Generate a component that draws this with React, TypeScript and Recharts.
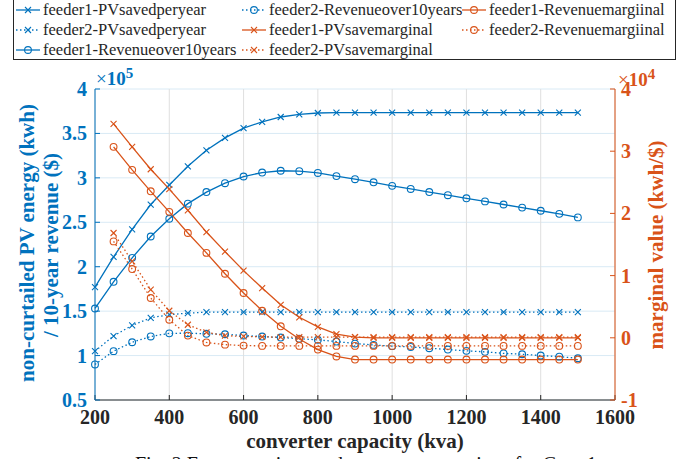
import { CartesianGrid, ComposedChart, Legend, Line, XAxis, YAxis } from "recharts"

// converter capacity (kva)
const capacity = [
  200, 250, 300, 350, 400, 450, 500, 550, 600, 650, 700, 750, 800, 850,
  900, 950, 1000, 1050, 1100, 1150, 1200, 1250, 1300, 1350, 1400, 1450, 1500,
]

// left axis values, x 10^5
const feeder1PvSavedPerYear = [
  1.77, 2.11, 2.42, 2.7, 2.92, 3.13, 3.31, 3.45, 3.56, 3.63, 3.685, 3.715, 3.73, 3.735,
  3.735, 3.735, 3.735, 3.735, 3.735, 3.735, 3.735, 3.735, 3.735, 3.735, 3.735, 3.735, 3.735,
]
const feeder2PvSavedPerYear = [
  1.05, 1.22, 1.34, 1.425, 1.46, 1.478, 1.488, 1.49, 1.49, 1.49, 1.49, 1.49, 1.49, 1.49,
  1.49, 1.49, 1.49, 1.49, 1.49, 1.49, 1.49, 1.49, 1.49, 1.49, 1.49, 1.49, 1.49,
]
const feeder1RevenueOver10Years = [
  1.53, 1.83, 2.1, 2.34, 2.54, 2.71, 2.84, 2.94, 3.015, 3.06, 3.08, 3.075, 3.055, 3.02,
  2.985, 2.95, 2.91, 2.875, 2.84, 2.805, 2.77, 2.735, 2.7, 2.665, 2.63, 2.595, 2.555,
]
const feeder2RevenueOver10Years = [
  0.9, 1.05, 1.15, 1.215, 1.25, 1.252, 1.245, 1.24, 1.226, 1.214, 1.203, 1.19, 1.177, 1.158,
  1.135, 1.12, 1.106, 1.097, 1.083, 1.068, 1.053, 1.042, 1.025, 1.015, 1.0, 0.988, 0.97,
]

// right axis values, x 10^4 (no marginal value at the first capacity)
const feeder1PvSaveMarginal = [
  null, 3.44, 3.07, 2.71, 2.39, 2.05, 1.7, 1.385, 1.08, 0.8, 0.53, 0.33, 0.175, 0.06,
  0.012, 0, 0, 0, 0, 0, 0, 0, 0, 0, 0, 0, 0,
]
const feeder2PvSaveMarginal = [
  null, 1.685, 1.23, 0.775, 0.435, 0.21, 0.087, 0.034, 0.022, 0.015, 0.01, 0.01, 0.01, 0.01,
  0.01, 0.01, 0.01, 0.01, 0.01, 0.01, 0.01, 0.01, 0.01, 0.01, 0.01, 0.01, 0.01,
]
const feeder1RevenueMargiinal = [
  null, 3.07, 2.7, 2.355, 2.025, 1.685, 1.365, 1.03, 0.72, 0.435, 0.185, -0.02, -0.19, -0.3,
  -0.35, -0.35, -0.35, -0.35, -0.35, -0.35, -0.35, -0.35, -0.35, -0.35, -0.35, -0.35, -0.35,
]
const feeder2RevenueMargiinal = [
  null, 1.55, 1.105, 0.64, 0.29, 0.035, -0.075, -0.11, -0.125, -0.13, -0.13, -0.13, -0.13, -0.13,
  -0.13, -0.13, -0.13, -0.13, -0.13, -0.13, -0.13, -0.13, -0.13, -0.13, -0.13, -0.13, -0.13,
]

const xTicks = [200, 400, 600, 800, 1000, 1200, 1400, 1600]
const leftTicks = [0.5, 1, 1.5, 2, 2.5, 3, 3.5, 4]
const rightTicks = [-1, 0, 1, 2, 3, 4]

const BLUE = "#0072BD"
const ORANGE = "#D95319"
const INK = "#262626"
const FONT = '"Liberation Serif", "Times New Roman", Times, "DejaVu Serif", serif'

// legend order (column by column)
const series = [
  { key: "f1PvYear", name: "feeder1-PVsavedperyear", values: feeder1PvSavedPerYear, color: BLUE, dotted: false, marker: "x", axis: "left" },
  { key: "f2PvYear", name: "feeder2-PVsavedperyear", values: feeder2PvSavedPerYear, color: BLUE, dotted: true, marker: "x", axis: "left" },
  { key: "f1Rev", name: "feeder1-Revenueover10years", values: feeder1RevenueOver10Years, color: BLUE, dotted: false, marker: "o", axis: "left" },
  { key: "f2Rev", name: "feeder2-Revenueover10years", values: feeder2RevenueOver10Years, color: BLUE, dotted: true, marker: "o", axis: "left" },
  { key: "f1PvMarg", name: "feeder1-PVsavemarginal", values: feeder1PvSaveMarginal, color: ORANGE, dotted: false, marker: "x", axis: "right" },
  { key: "f2PvMarg", name: "feeder2-PVsavemarginal", values: feeder2PvSaveMarginal, color: ORANGE, dotted: true, marker: "x", axis: "right" },
  { key: "f1RevMarg", name: "feeder1-Revenuemargiinal", values: feeder1RevenueMargiinal, color: ORANGE, dotted: false, marker: "o", axis: "right" },
  { key: "f2RevMarg", name: "feeder2-Revenuemargiinal", values: feeder2RevenueMargiinal, color: ORANGE, dotted: true, marker: "o", axis: "right" },
]

const rows = capacity.map((c, i) => {
  const row: Record<string, number | null> = { capacity: c }
  series.forEach((s) => (row[s.key] = s.values[i]))
  return row
})

function Marker({ cx, cy, shape, color }: { cx: number; cy: number; shape: string; color: string }) {
  if (shape === "x") {
    return (
      <path
        d={`M${cx - 3},${cy - 3}L${cx + 3},${cy + 3}M${cx - 3},${cy + 3}L${cx + 3},${cy - 3}`}
        stroke={color}
        strokeWidth={1.1}
        fill="none"
      />
    )
  }
  return <circle cx={cx} cy={cy} r={3.4} stroke={color} strokeWidth={1.1} fill="none" />
}

const renderDot = (s: (typeof series)[number]) => (p: any) => {
  const key = `${s.key}-${p.index}`
  if (p.cx == null || p.cy == null || p.value == null) return <g key={key} />
  return (
    <g key={key}>
      <Marker cx={p.cx} cy={p.cy} shape={s.marker} color={s.color} />
    </g>
  )
}

function LegendBox({ payload }: any) {
  // keep the series order, not the legend's own sorting
  const keys = (payload ?? []).map((e: any) => e.dataKey)
  const entries = series.filter((s) => keys.length === 0 || keys.includes(s.key))
  return (
    <div
      style={{
        boxSizing: "border-box",
        width: 663,
        height: 61,
        border: `1px solid ${INK}`,
        background: "#fff",
        display: "grid",
        gridTemplateColumns: "226px 220px 215px",
        gridTemplateRows: "repeat(3, 20px)",
        gridAutoFlow: "column",
        fontFamily: FONT,
        fontSize: 16.5,
        color: INK,
      }}
    >
      {entries.map((s) => (
        <div key={s.key} style={{ display: "flex", alignItems: "center", whiteSpace: "nowrap", lineHeight: "20px" }}>
          <svg width={29} height={20} style={{ flex: "none" }}>
            <line x1={2} x2={26} y1={10} y2={10} stroke={s.color} strokeWidth={1.3} strokeDasharray={s.dotted ? "1.5 2.5" : undefined} />
            <Marker cx={14} cy={10} shape={s.marker} color={s.color} />
          </svg>
          <span>{s.name}</span>
        </div>
      ))}
    </div>
  )
}

const XTick = ({ x, y, payload }: any) => (
  <text x={x} y={y} dy="0.71em" textAnchor="middle" fontFamily={FONT} fontSize={20} fontWeight="bold" fill={INK}>
    {payload.value}
  </text>
)

const LeftTick = ({ x, y, payload }: any) => (
  <text x={x} y={y} dy="0.35em" textAnchor="end" fontFamily={FONT} fontSize={20} fontWeight="bold" fill={BLUE}>
    {payload.value}
  </text>
)

const RightTick = ({ x, y, payload }: any) => (
  <text x={x} y={y} dy="0.35em" textAnchor="start" fontFamily={FONT} fontSize={20} fontWeight="bold" fill={ORANGE}>
    {payload.value}
  </text>
)

export default function App() {
  return (
    <div style={{ position: "absolute", left: 0, top: 0, width: 700, height: 459, overflow: "hidden", background: "#fff" }}>
      <ComposedChart width={700} height={459} data={rows} margin={{ top: 89, right: 0, bottom: 0, left: 0 }}>
        <CartesianGrid yAxisId="left" vertical={false} stroke="#d9eaf5" />
        <CartesianGrid yAxisId="left" horizontal={false} stroke="#dfdfdf" />
        <XAxis
          dataKey="capacity"
          type="number"
          domain={[200, 1600]}
          ticks={xTicks}
          interval={0}
          height={59}
          tickSize={-5}
          tickMargin={15}
          stroke={INK}
          tick={<XTick />}
        />
        <YAxis
          yAxisId="left"
          orientation="left"
          width={95}
          domain={[0.5, 4]}
          ticks={leftTicks}
          interval={0}
          tickSize={-5}
          tickMargin={13}
          stroke={BLUE}
          tick={<LeftTick />}
        />
        <YAxis
          yAxisId="right"
          orientation="right"
          width={85}
          domain={[-1, 4]}
          ticks={rightTicks}
          interval={0}
          tickSize={-5}
          tickMargin={11}
          stroke={ORANGE}
          tick={<RightTick />}
        />
        <Legend
          layout="horizontal"
          verticalAlign="middle"
          align="center"
          itemSorter={null}
          wrapperStyle={{ left: 13, top: -1, width: 663, height: 61 }}
          content={<LegendBox />}
        />
        {series.map((s) => (
          <Line
            key={s.key}
            yAxisId={s.axis}
            dataKey={s.key}
            name={s.name}
            stroke={s.color}
            strokeWidth={1.3}
            strokeDasharray={s.dotted ? "1.5 2.5" : undefined}
            dot={renderDot(s)}
            activeDot={false}
            isAnimationActive={false}
          />
        ))}
      </ComposedChart>

      <svg width={700} height={459} style={{ position: "absolute", left: 0, top: 0, pointerEvents: "none" }} fontFamily={FONT}>
        <text x={96} y={85} fill={BLUE} fontSize={19} fontWeight="bold">
          <tspan fontWeight="normal">×</tspan>10<tspan dy={-7} fontSize={15}>5</tspan>
        </text>
        <text x={618} y={86} fill={ORANGE} fontSize={19} fontWeight="bold">
          <tspan fontWeight="normal">×</tspan>10<tspan dy={-7} fontSize={15}>4</tspan>
        </text>
        <text transform="translate(27,243) rotate(-90)" dy="0.35em" textAnchor="middle" fill={BLUE} fontSize={21} fontWeight="bold">
          non-curtailed PV energy (kwh)
        </text>
        <text transform="translate(51,245) rotate(-90)" dy="0.35em" textAnchor="middle" fill={BLUE} fontSize={21} fontWeight="bold">
          / 10-year revenue ($)
        </text>
        <text transform="translate(656,245) rotate(-90)" dy="0.35em" textAnchor="middle" fill={ORANGE} fontSize={21} fontWeight="bold">
          marginal value (kwh/$)
        </text>
        <text x={355} y={448} textAnchor="middle" fill={INK} fontSize={21} fontWeight="bold">
          converter capacity (kva)
        </text>
        <text x={135} y={471} fill="#111" fontSize={20}>
          Fig. 2 Energy savings and revenue comparison for Case 1
        </text>
      </svg>
    </div>
  )
}
